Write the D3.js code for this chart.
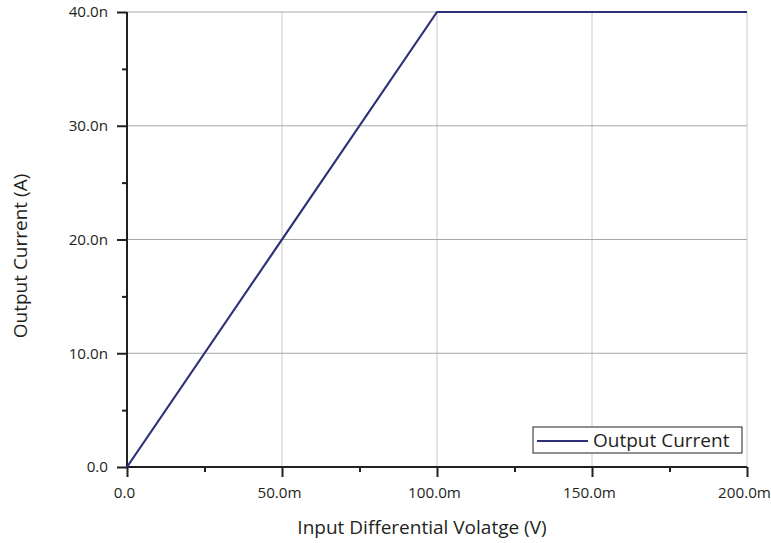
<!DOCTYPE html>
<html>
<head>
<meta charset="utf-8">
<script src="https://cdn.jsdelivr.net/npm/d3@7"></script>
<style>
	body { margin: 0; background: #fff; }
	text { font-family: "Open Sans", sans-serif; fill: #231f20; }
</style>
</head>
<body>
<div id="chart"></div>
<script>
// sweep points (V, A)
var voltage = [0, 0.1, 0.2];
var current = [0, 40e-9, 40e-9];

var xTicks = [0, 0.05, 0.1, 0.15, 0.2];
var xTickLabels = ["0.0", "50.0m", "100.0m", "150.0m", "200.0m"];
var xMinor = [0.025, 0.075, 0.125, 0.175];
var yTicks = [0, 10e-9, 20e-9, 30e-9, 40e-9];
var yTickLabels = ["0.0", "10.0n", "20.0n", "30.0n", "40.0n"];
var yMinor = [5e-9, 15e-9, 25e-9, 35e-9];

var seriesName = "Output Current";

var width = 771,
	height = 543,
	margin = { top: 12, right: 24, bottom: 76, left: 127 };

var svg = d3.select("#chart").append("svg")
	.attr("width", width)
	.attr("height", height);

var x = d3.scaleLinear().domain([0, 0.2]).range([margin.left, width - margin.right]);
var y = d3.scaleLinear().domain([0, 40e-9]).range([height - margin.bottom, margin.top]);

// grid
svg.append("g").selectAll("line")
	.data(xTicks.slice(1))
	.enter().append("line")
	.attr("x1", function(d) { return x(d); })
	.attr("x2", function(d) { return x(d); })
	.attr("y1", y(0))
	.attr("y2", y(40e-9))
	.attr("stroke", "#c8c8c8")
	.attr("stroke-width", 1);

svg.append("g").selectAll("line")
	.data(yTicks.slice(1))
	.enter().append("line")
	.attr("x1", x(0))
	.attr("x2", x(0.2))
	.attr("y1", function(d) { return y(d); })
	.attr("y2", function(d) { return y(d); })
	.attr("stroke", "#a8a8a8")
	.attr("stroke-width", 1);

// axes
var xAxis = svg.append("g")
	.attr("transform", "translate(0," + y(0) + ")")
	.call(d3.axisBottom(x).tickValues(xTicks).tickSize(10).tickPadding(10)
		.tickFormat(function(d, i) { return xTickLabels[i]; }));

svg.append("g")
	.attr("transform", "translate(0," + y(0) + ")")
	.call(d3.axisBottom(x).tickValues(xMinor).tickSize(5).tickFormat(""))
	.call(function(g) { g.select(".domain").remove(); });

var yAxis = svg.append("g")
	.attr("transform", "translate(" + x(0) + ",0)")
	.call(d3.axisLeft(y).tickValues(yTicks).tickSize(10).tickPadding(9)
		.tickFormat(function(d, i) { return yTickLabels[i]; }));

svg.append("g")
	.attr("transform", "translate(" + x(0) + ",0)")
	.call(d3.axisLeft(y).tickValues(yMinor).tickSize(5).tickFormat(""))
	.call(function(g) { g.select(".domain").remove(); });

svg.selectAll(".domain").attr("stroke", "#231f20").attr("stroke-width", 2);
svg.selectAll(".tick line").attr("stroke", "#231f20").attr("stroke-width", 2);
svg.selectAll(".tick text").style("font-size", "15.2px").style("font-family", "'Open Sans', sans-serif").attr("fill", "#231f20");
xAxis.selectAll(".tick text").attr("dx", -3);
xAxis.selectAll(".domain").attr("d", "M" + x(0) + ",0H" + x(0.2));
yAxis.selectAll(".domain").attr("d", "M0," + y(0) + "V" + y(40e-9));

// line
var line = d3.line()
	.x(function(d, i) { return x(voltage[i]); })
	.y(function(d) { return y(d); });

svg.append("path")
	.datum(current)
	.attr("d", line)
	.attr("fill", "none")
	.attr("stroke", "#2e3179")
	.attr("stroke-width", 2.2);

// titles
svg.append("text")
	.attr("x", 422)
	.attr("y", 534)
	.attr("text-anchor", "middle")
	.style("font-size", "19px")
	.text("Input Differential Volatge (V)");

svg.append("text")
	.attr("transform", "translate(27,256) rotate(-90)")
	.attr("text-anchor", "middle")
	.style("font-size", "19px")
	.text("Output Current (A)");

// legend
var legend = svg.append("g").attr("transform", "translate(533,427)");
legend.append("rect")
	.attr("width", 209)
	.attr("height", 26)
	.attr("fill", "#fff")
	.attr("stroke", "#231f20")
	.attr("stroke-width", 1);
legend.append("line")
	.attr("x1", 4).attr("x2", 55)
	.attr("y1", 14).attr("y2", 14)
	.attr("stroke", "#2e3179")
	.attr("stroke-width", 2.2);
legend.append("text")
	.attr("x", 60)
	.attr("y", 20)
	.style("font-size", "19px")
	.text(seriesName);
</script>
</body>
</html>
